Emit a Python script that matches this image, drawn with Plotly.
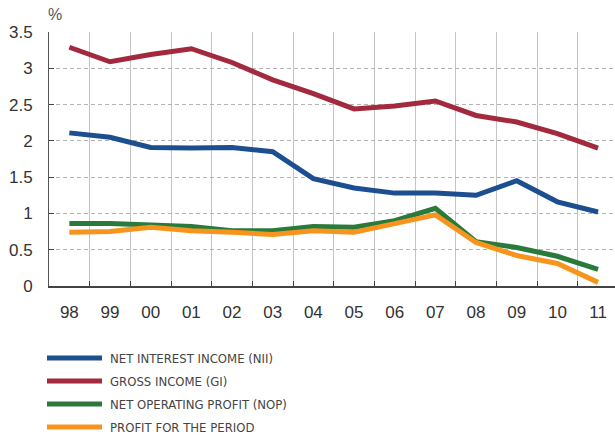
import plotly.graph_objects as go

years = ["98", "99", "00", "01", "02", "03", "04", "05", "06", "07", "08", "09", "10", "11"]
nii = [2.11, 2.05, 1.91, 1.90, 1.91, 1.85, 1.48, 1.35, 1.28, 1.28, 1.25, 1.45, 1.16, 1.02]
gi = [3.29, 3.09, 3.19, 3.27, 3.08, 2.84, 2.65, 2.44, 2.48, 2.55, 2.35, 2.26, 2.10, 1.90]
nop = [0.86, 0.86, 0.84, 0.82, 0.76, 0.76, 0.82, 0.81, 0.90, 1.07, 0.61, 0.53, 0.41, 0.23]
profit = [0.74, 0.75, 0.81, 0.76, 0.74, 0.71, 0.76, 0.74, 0.86, 0.98, 0.60, 0.42, 0.31, 0.05]

names = ["NET INTEREST INCOME (NII)", "GROSS INCOME (GI)", "NET OPERATING PROFIT (NOP)", "PROFIT FOR THE PERIOD"]
colors = ["#1c4f8f", "#a2293e", "#2a7a3c", "#f7941e"]
series = [nii, gi, nop, profit]

y_ticks = [0, 0.5, 1, 1.5, 2, 2.5, 3, 3.5]
y_ticklabels = ["0", "0.5", "1", "1.5", "2", "2.5", "3", "3.5"]

W, H = 615, 436
L, T, R, B = 49, 32, 0, 150
pw, ph = W - L - R, H - T - B

fig = go.Figure()
for vals, name, col in zip(series, names, colors):
    fig.add_trace(go.Scatter(x=years, y=vals, mode="lines", name=name,
                             line=dict(color=col, width=5), showlegend=False))

def px_to_paper(xp, yp):
    return (xp - L) / pw, (T + ph - yp) / ph

shapes = []
annotations = []
for i, (name, col) in enumerate(zip(names, colors)):
    yp = 358 + i * 23
    x0, y0 = px_to_paper(47, yp)
    x1, _ = px_to_paper(102, yp)
    shapes.append(dict(type="line", xref="paper", yref="paper", x0=x0, x1=x1, y0=y0, y1=y0,
                       line=dict(color=col, width=5)))
    tx, _ = px_to_paper(108, yp)
    annotations.append(dict(xref="paper", yref="paper", x=tx, y=y0, text=name, showarrow=False,
                            xanchor="left", yanchor="middle",
                            font=dict(family="Liberation Sans Narrow, DejaVu Sans Condensed, Arial Narrow, sans-serif",
                                      size=13, color="#444")))

px_, py_ = px_to_paper(55, 15)
annotations.append(dict(xref="paper", yref="paper", x=px_, y=py_, text="%", showarrow=False,
                        xanchor="center", yanchor="middle",
                        font=dict(family="Liberation Sans, Arial, sans-serif", size=16, color="#555")))

right_end = (W - L) / 40.67 - 0.5

fig.update_layout(
    width=W, height=H,
    margin=dict(l=L, r=R, t=T, b=B, pad=0),
    paper_bgcolor="white", plot_bgcolor="white",
    shapes=shapes, annotations=annotations,
    showlegend=False,
    xaxis=dict(type="category", range=[-0.5, right_end], tickson="boundaries",
               ticks="inside", ticklen=5, tickcolor="#444", tickwidth=1,
               showgrid=True, gridcolor="#c4c4c4", gridwidth=1,
               showline=True, linecolor="#444", linewidth=1.5,
               tickfont=dict(family="Liberation Sans, Arial, sans-serif", size=17, color="#333"),
               ticklabelstandoff=10, fixedrange=True),
    yaxis=dict(range=[0, 3.5], tickvals=y_ticks, ticktext=y_ticklabels,
               ticks="inside", ticklen=5, tickcolor="#444", tickwidth=1,
               showgrid=True, gridcolor="#b4b4b4", gridwidth=1, griddash="4px,3px",
               zeroline=False, showline=True, linecolor="#555", linewidth=1,
               tickfont=dict(family="Liberation Sans, Arial, sans-serif", size=17, color="#333"),
               ticklabelstandoff=12, fixedrange=True),
)

fig.write_html("out.html", config={"displayModeBar": False},
               post_script="document.body.style.margin='0';document.body.style.overflow='hidden';")
